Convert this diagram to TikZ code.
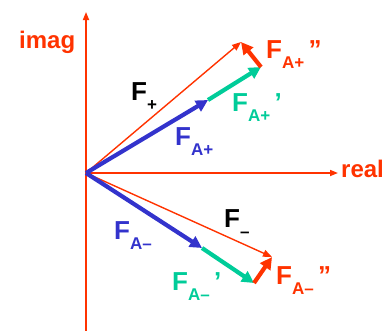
\documentclass[tikz,border=0pt]{standalone}
\usepackage{fontspec}
\setmainfont{Liberation Sans}
\usetikzlibrary{arrows.meta}
\definecolor{vred}{RGB}{255,51,0}
\definecolor{vblue}{RGB}{51,51,204}
\definecolor{vgreen}{RGB}{0,204,153}
\newcommand{\subtxt}[1]{\raisebox{-10pt}{\fontsize{17}{17}\selectfont\bfseries #1}}
\tikzset{
  axis/.style={
    draw=vred,
    line width=1.6pt,
    -{Triangle[length=8pt,width=6pt]}
  },
  sumvec/.style={
    draw=vred,
    line width=1.4pt,
    -{Triangle[length=9pt,width=7pt]}
  },
  partvec/.style={
    line width=4.2pt,
    -{Triangle[length=12pt,width=12pt]}
  },
  lbl/.style={
    font=\fontsize{26}{26}\selectfont\bfseries,
    inner sep=0pt,
    anchor=base west
  },
  axlbl/.style={
    font=\fontsize{24}{24}\selectfont\bfseries,
    text=vred,
    inner sep=0pt,
    anchor=base west
  }
}

\begin{document}
\begin{tikzpicture}[x=1pt,y=-1pt]
        \useasboundingbox (0,0) rectangle (383,330);
        \coordinate (O) at (86,173);
        \coordinate (ybot) at (86,331);
        \coordinate (ytop) at (86,12);
        \coordinate (xend) at (338,173);
        % upper half
        \coordinate (Fp) at (241,42);
        \coordinate (Ap) at (208,100);
        \coordinate (Bp) at (261,67);
        % lower half
        \coordinate (Fm) at (272,257);
        \coordinate (Am) at (202,248);
        \coordinate (Bm) at (254,283);
        \draw[axis] (ybot)--(ytop);
        \draw[axis] (O)--(xend);
        \draw[sumvec] (O)--(Fp);
        \draw[sumvec] (O)--(Fm);
        \draw[partvec,draw=vblue] (O)--(Ap);
        \draw[partvec,draw=vgreen] (Ap)--(Bp);
        \draw[partvec,draw=vred] (Bp)--(Fp);
        \draw[partvec,draw=vblue] (O)--(Am);
        \draw[partvec,draw=vgreen] (Am)--(Bm);
        \draw[partvec,draw=vred] (Bm)--(Fm);
        \node[axlbl] (imag) at (19,48) {imag};
        \node[axlbl] (real) at (341,177) {real};
        \node[lbl] (lFp) at (131,100) {F\subtxt{+}};
        \node[lbl,text=vblue] (lAp) at (175,145) {F\subtxt{A+}};
        \node[lbl,text=vgreen] (lBp) at (232,111) {F\subtxt{A+}\,’};
        \node[lbl,text=vred] (lCp) at (266,58) {F\subtxt{A+}\,”};
        \node[lbl] (lFm) at (224,227) {F\subtxt{–}};
        \node[lbl,text=vblue] (lAm) at (114,239) {F\subtxt{A–}};
        \node[lbl,text=vgreen] (lBm) at (172,290) {F\subtxt{A–}\,’};
        \node[lbl,text=vred] (lCm) at (276,284) {F\subtxt{A–}\,”};
\end{tikzpicture}
\end{document}
